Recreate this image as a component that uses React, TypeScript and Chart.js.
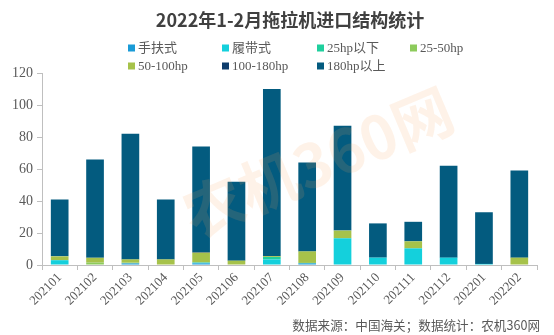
import React, { useEffect, useRef } from "react";
import { Chart, registerables } from "chart.js";

Chart.register(...registerables);

const TITLE = "2022年1-2月拖拉机进口结构统计";
const SOURCE = "数据来源：中国海关；数据统计：农机360网";
const WATERMARK = "农机360网";
const months = ["202101","202102","202103","202104","202105","202106","202107","202108","202109","202110","202111","202112","202201","202202"];
const yTicks = [0, 20, 40, 60, 80, 100, 120];

const seriesNames = ["手扶式", "履带式", "25hp以下", "25-50hp", "50-100hp", "100-180hp", "180hp以上"];
const seriesColors = ["#1a9bd7", "#14d0dc", "#1fcf9d", "#8dcb5c", "#a6c24a", "#0d3c6b", "#035b7f"];

const handTractor = [0, 0, 1, 0, 1, 0, 0, 1, 0, 0, 0, 0, 0, 0];
const crawler = [3, 0, 0, 0, 0.5, 0, 3.5, 0, 16.7, 4.6, 10.4, 4.6, 0.7, 0];
const under25 = [0, 0, 0, 0, 0, 0, 1.5, 0.3, 0, 0, 0, 0, 0, 0];
const hp25to50 = [0, 1.5, 0.5, 0, 0, 0, 0, 0, 0, 0, 0, 0, 0, 0];
const hp50to100 = [2.4, 3, 2, 3.5, 6.2, 2.7, 0.5, 7.2, 4.8, 0, 4.4, 0, 0, 4.6];
const hp100to180 = [0, 0, 0, 0, 0.4, 0, 0, 0, 0, 0, 0, 0, 0, 0];
const over180 = [35.6, 61.5, 78.5, 37.5, 65.9, 49.3, 104.5, 55.5, 65.5, 21.4, 12.2, 57.4, 32.3, 54.4];

const seriesValues = [handTractor, crawler, under25, hp25to50, hp50to100, hp100to180, over180];

const FONT = "'Liberation Serif', 'Noto Sans CJK SC', serif";

export default function App() {
  const ref = useRef<HTMLCanvasElement | null>(null);

  useEffect(() => {
    if (!ref.current) return;
    const decor = {
      id: "decor",
      afterDatasetsDraw(chart: any) {
        const ctx = chart.ctx;
        ctx.save();
        ctx.translate(318, 162);
        ctx.rotate(-0.4);
        ctx.font = "bold 60px 'Noto Sans CJK SC', sans-serif";
        ctx.fillStyle = "rgba(248, 160, 90, 0.14)";
        ctx.textAlign = "center";
        ctx.textBaseline = "middle";
        ctx.fillText(WATERMARK, 0, 0);
        ctx.restore();
      },
      afterDraw(chart: any) {
        const ctx = chart.ctx;
        ctx.save();
        ctx.font = "bold 18px 'Noto Sans CJK SC', sans-serif";
        ctx.fillStyle = "#404040";
        ctx.textAlign = "center";
        ctx.textBaseline = "middle";
        ctx.fillText(TITLE, 290, 20);
        ctx.font = "13px " + FONT;
        ctx.textAlign = "left";
        const cols = [128, 222, 317, 410];
        seriesNames.forEach((name, i) => {
          const row = i < 4 ? 0 : 1;
          const col = i < 4 ? i : i - 4;
          const x = cols[col];
          const y = row === 0 ? 48 : 66;
          ctx.fillStyle = seriesColors[i];
          ctx.fillRect(x, y - 3.5, 7, 7);
          ctx.fillStyle = "#595959";
          ctx.fillText(name, x + 10, y + 1);
        });
        ctx.font = "12.6px 'Noto Sans CJK SC', sans-serif";
        ctx.fillStyle = "#595959";
        ctx.textAlign = "right";
        ctx.fillText(SOURCE, 540, 325);
        ctx.restore();
      },
    };

    const chart = new Chart(ref.current, {
      type: "bar",
      data: {
        labels: months,
        datasets: seriesNames.map((name, i) => ({
          label: name,
          data: seriesValues[i],
          backgroundColor: seriesColors[i],
          borderWidth: 0,
          categoryPercentage: 1,
          barPercentage: 0.5,
        })),
      },
      options: {
        animation: false,
        responsive: false,
        maintainAspectRatio: false,
        layout: { padding: { top: 73, right: 17, left: 0, bottom: 0 } },
        plugins: {
          legend: { display: false },
          title: { display: false },
          tooltip: { enabled: false },
        },
        scales: {
          x: {
            stacked: true,
            afterFit: (s: any) => { s.height = 70; },
            grid: {
              offset: true,
              drawOnChartArea: false,
              drawTicks: true,
              tickLength: 5,
              color: "#bfbfbf",
            },
            border: { color: "#bfbfbf", width: 1 },
            ticks: {
              maxRotation: 45,
              minRotation: 45,
              color: "#595959",
              font: { family: FONT, size: 13 },
              padding: 0,
              autoSkip: false,
            },
          },
          y: {
            stacked: true,
            min: 0,
            max: 120,
            afterFit: (s: any) => { s.width = 42; },
            afterBuildTicks: (s: any) => { s.ticks = yTicks.map((v) => ({ value: v })); },
            grid: {
              drawOnChartArea: false,
              drawTicks: true,
              tickLength: 5,
              color: "#bfbfbf",
            },
            border: { color: "#bfbfbf", width: 1 },
            ticks: {
              color: "#595959",
              font: { family: FONT, size: 14 },
              padding: 4,
            },
          },
        },
      },
      plugins: [decor],
    });
    return () => chart.destroy();
  }, []);

  return (
    <div style={{ position: "absolute", left: 0, top: 0, width: 554, height: 335, background: "#fff" }}>
      <canvas ref={ref} width={554} height={335} style={{ width: 554, height: 335 }} />
    </div>
  );
}
